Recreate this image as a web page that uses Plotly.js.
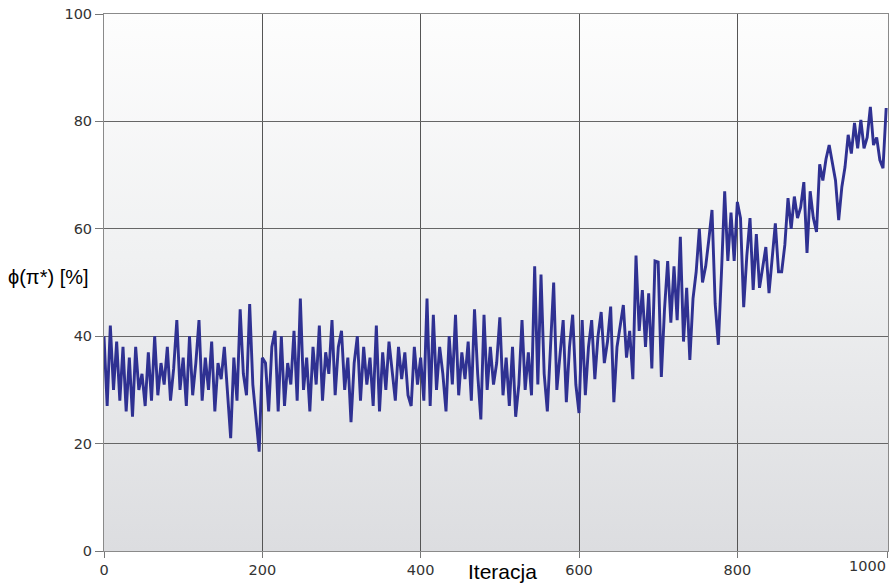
<!DOCTYPE html>
<html>
<head>
<meta charset="utf-8">
<script src="https://cdn.plot.ly/plotly-3.0.1.min.js"></script>
<style>
  html, body { margin: 0; padding: 0; background: #ffffff; }
  #plot {
    width: 895px; height: 583px;
    background-color: #ffffff;
    background-image: linear-gradient(to bottom, #fdfdfd 0%, #f0f1f2 45%, #dcdde0 100%);
    background-repeat: no-repeat;
    background-position: 104px 14px;
    background-size: 784px 537px;
  }
</style>
</head>
<body>
<div id="plot"></div>
<script>
// Iterations start at 0 with a step of 4
const iterStart = 0;
const iterStep = 4;

// phi(pi*) [%] values, in blocks of 100 iterations
const seg0 = [40, 27, 42, 30, 39, 28, 38, 26, 36, 25, 38, 30, 33, 27, 37, 28, 40, 29, 35, 31, 38, 28, 34, 43, 30];
const seg1 = [36, 27, 40, 29, 35, 43, 28, 36, 30, 39, 26, 35, 32, 38, 30, 21, 36, 28, 45, 33, 29, 46, 31, 25, 18.5];
const seg2 = [36, 35, 26, 38, 41, 26, 40, 27, 35, 31, 41, 28, 47, 30, 36, 26, 38, 31, 42, 28, 37, 33, 43, 29, 38];
const seg3 = [41, 30, 36, 24, 35, 40, 28, 38, 31, 36, 27, 42, 26, 37, 30, 39, 33, 28, 38, 32, 37, 29, 27, 38, 31];
const seg4 = [36, 28, 47, 27, 44, 30, 38, 33, 26, 40, 31, 44, 29, 37, 32, 39, 28, 45, 33, 24.5, 44, 30, 38, 31, 35];
const seg5 = [43.5, 29, 36, 27, 38, 25, 31, 43, 30, 37, 29, 53, 31, 51.5, 33, 26, 38, 50, 30, 36, 43, 27.7, 38, 44, 31];
const seg6 = [25.7, 43, 29, 38, 43, 32, 40, 44.5, 35, 39, 45.5, 27.7, 38, 42, 45.8, 36, 41, 32, 55, 41, 48.6, 38, 48, 34, 54];
const seg7 = [53.8, 32.4, 45, 54, 42.5, 53, 43, 58.5, 39, 49, 35.6, 47, 52, 60, 50, 53, 58, 63.5, 46, 38.4, 52, 67, 54, 63, 54];
const seg8 = [65, 62, 45.4, 55, 62, 48.6, 59, 49, 53, 56.6, 48, 55, 61, 52, 52, 57, 65.7, 60, 66, 62, 64, 68.7, 55.5, 67, 62];
const seg9 = [59.4, 72, 69, 73, 75.6, 72, 69, 61.6, 67.8, 71.5, 77.5, 74, 79.7, 75, 80.3, 75, 77, 82.7, 75.6, 77, 72.8, 71.3, 82.5];

const phiValues = [].concat(seg0, seg1, seg2, seg3, seg4, seg5, seg6, seg7, seg8, seg9);

const xTickVals = [0, 200, 400, 600, 800, 990];
const xTickText = ['0', '200', '400', '600', '800', ''];
const lastTickLabel = '1000';
const yTickVals = [0, 20, 40, 60, 80, 100];

const trace = {
  type: 'scatter',
  mode: 'lines',
  x0: iterStart,
  dx: iterStep,
  y: phiValues,
  line: { color: '#2f3192', width: 2.9 },
  hoverinfo: 'x+y'
};

const axisFont = { family: 'DejaVu Sans, Verdana, sans-serif', size: 14.5, color: '#333333' };

const layout = {
  width: 895,
  height: 583,
  margin: { l: 104, r: 7, t: 14, b: 32, pad: 0 },
  paper_bgcolor: 'rgba(0,0,0,0)',
  plot_bgcolor: 'rgba(0,0,0,0)',
  showlegend: false,
  xaxis: {
    range: [0, 990.3],
    tickmode: 'array',
    tickvals: xTickVals,
    ticktext: xTickText,
    ticks: 'outside',
    ticklen: 6,
    tickcolor: '#777777',
    tickfont: axisFont,
    showgrid: true,
    gridcolor: '#555555',
    gridwidth: 1,
    zeroline: false,
    showline: true,
    linecolor: '#8a8a8a',
    linewidth: 1,
    mirror: true
  },
  yaxis: {
    range: [0, 100],
    tickmode: 'array',
    tickvals: yTickVals,
    ticks: 'outside',
    ticklen: 8,
    tickcolor: '#777777',
    tickfont: axisFont,
    showgrid: true,
    gridcolor: '#666666',
    gridwidth: 1,
    zeroline: false,
    showline: true,
    linecolor: '#8a8a8a',
    linewidth: 1,
    mirror: true
  },
  annotations: [
    {
      text: 'ϕ(π*) [%]',
      xref: 'paper', yref: 'paper',
      x: -0.125, y: 0.51,
      xanchor: 'left', yanchor: 'middle',
      showarrow: false,
      font: { family: 'Liberation Sans, DejaVu Sans, sans-serif', size: 20, color: '#000000' }
    },
    {
      text: lastTickLabel,
      xref: 'paper', yref: 'paper',
      x: 1.0, y: 0,
      xanchor: 'right', yanchor: 'top',
      yshift: -5,
      showarrow: false,
      font: axisFont
    },
    {
      text: 'Iteracja',
      xref: 'paper', yref: 'paper',
      x: 0.508, y: -0.038,
      xanchor: 'center', yanchor: 'middle',
      showarrow: false,
      font: { family: 'Liberation Sans, Arial, sans-serif', size: 21, color: '#000000' }
    }
  ]
};

Plotly.newPlot('plot', [trace], layout, { displayModeBar: false, staticPlot: true });
</script>
</body>
</html>
